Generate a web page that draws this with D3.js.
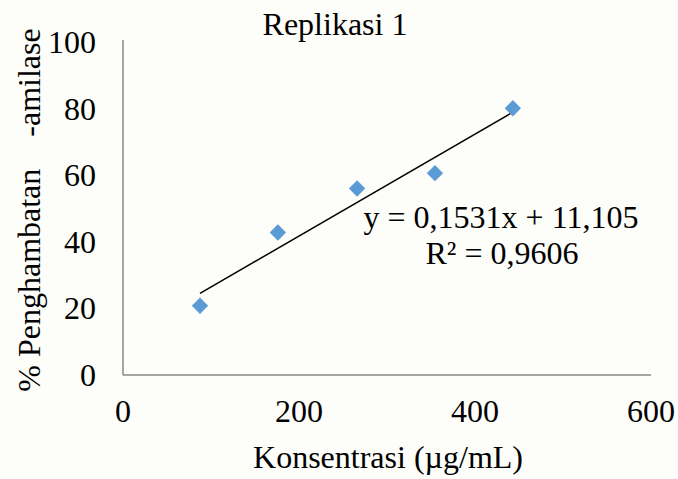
<!DOCTYPE html>
<html>
<head>
<meta charset="utf-8">
<script src="https://cdn.jsdelivr.net/npm/d3@7"></script>
<style>
  body { margin: 0; background: #fdfdf9; }
  text { font-family: "Liberation Serif", "Times New Roman", serif; fill: #000; }
</style>
</head>
<body>
<svg id="canvas"></svg>
<script>
const width = 678;
const height = 479;

// data
const konsentrasi = [87.5, 176, 266, 354.5, 443];
const penghambatan = [20.8, 42.8, 56, 60.6, 80.1];
const slope = 0.1531;
const intercept = 11.105;
const xTicks = [0, 200, 400, 600];
const yTicks = [0, 20, 40, 60, 80, 100];
const equationText = "y = 0,1531x + 11,105";
const r2Text = "R² = 0,9606";

const fontSize = '32px';

let canvas = d3.select("#canvas").attr('width', width).attr('height', height);

const x = d3.scaleLinear().domain([0, 600]).range([123, 651]);
const y = d3.scaleLinear().domain([0, 100]).range([375, 42]);

// axes lines
canvas.append('line')
    .attr('x1', x(0)).attr('x2', x(0))
    .attr('y1', y(100) - 2).attr('y2', y(0))
    .attr('stroke', '#878787').attr('stroke-width', 1.5);
canvas.append('line')
    .attr('x1', x(0)).attr('x2', x(600))
    .attr('y1', y(0)).attr('y2', y(0))
    .attr('stroke', '#878787').attr('stroke-width', 1.5);

// tick labels
canvas.selectAll('.ytick')
    .data(yTicks)
    .enter()
    .append('text')
    .attr('class', 'ytick')
    .attr('x', 96)
    .attr('y', d => y(d) + 11)
    .attr('text-anchor', 'end')
    .style('font-size', fontSize)
    .text(d => d);

canvas.selectAll('.xtick')
    .data(xTicks)
    .enter()
    .append('text')
    .attr('class', 'xtick')
    .attr('x', d => x(d))
    .attr('y', 422)
    .attr('text-anchor', 'middle')
    .style('font-size', fontSize)
    .text(d => d);

// trendline over the data range
const x0 = d3.min(konsentrasi), x1 = d3.max(konsentrasi);
canvas.append('line')
    .attr('x1', x(x0)).attr('y1', y(slope * x0 + intercept))
    .attr('x2', x(x1)).attr('y2', y(slope * x1 + intercept))
    .attr('stroke', '#000').attr('stroke-width', 1.5);

// markers
const diamond = d3.symbol().type(d3.symbolDiamond2).size(170);
canvas.selectAll('.pt')
    .data(konsentrasi.map((k, i) => [k, penghambatan[i]]))
    .enter()
    .append('path')
    .attr('class', 'pt')
    .attr('d', diamond)
    .attr('transform', d => `translate(${x(d[0])},${y(d[1])})`)
    .attr('fill', '#5b9bd5');

// title and labels
canvas.append('text')
    .attr('x', 335).attr('y', 35)
    .attr('text-anchor', 'middle')
    .style('font-size', fontSize)
    .text('Replikasi 1');

canvas.append('text')
    .attr('x', 501).attr('y', 228)
    .attr('text-anchor', 'middle')
    .style('font-size', fontSize)
    .text(equationText);

canvas.append('text')
    .attr('x', 502).attr('y', 264)
    .attr('text-anchor', 'middle')
    .style('font-size', fontSize)
    .text(r2Text);

canvas.append('text')
    .attr('x', 388).attr('y', 468)
    .attr('text-anchor', 'middle')
    .style('font-size', fontSize)
    .text('Konsentrasi (µg/mL)');

canvas.append('text')
    .attr('transform', 'translate(40,210) rotate(-90)')
    .attr('text-anchor', 'middle')
    .style('font-size', fontSize)
    .style('white-space', 'pre')
    .text('% Penghambatan    -amilase');
</script>
</body>
</html>
